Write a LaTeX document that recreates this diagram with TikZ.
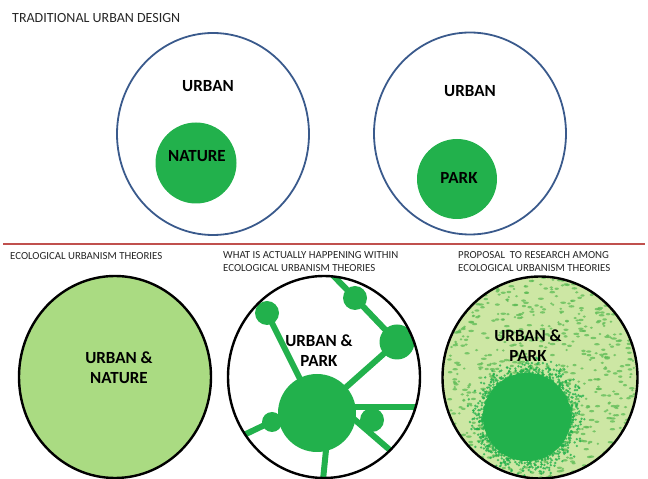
\documentclass[tikz,border=0pt]{standalone}
\usepackage{fontspec}
\setmainfont{Carlito}
\usetikzlibrary{calc}
\definecolor{ringc}{HTML}{3A5A8C}
\definecolor{parkc}{HTML}{22B14C}
\definecolor{lightc}{HTML}{AADB82}
\definecolor{palec}{HTML}{CDE7A4}
\definecolor{speckc}{HTML}{5CBB55}
\definecolor{linec}{HTML}{C0504D}
\tikzset{
  ring/.style={draw=ringc,line width=1.8pt},
  bound/.style={draw=black,line width=2.4pt},
  disc/.style={circle,fill=parkc,inner sep=0pt},
  lbl/.style={font=\fontsize{17}{20}\selectfont\bfseries,align=center,text=black,inner sep=0pt},
  captxt/.style={font=\fontsize{10.8}{13}\selectfont,anchor=west,inner sep=0pt,text=black!85},
  link/.style={parkc,line width=6pt}
}
\begin{document}
\begin{tikzpicture}[x=1pt,y=1pt]
\useasboundingbox (0,0) rectangle (648,479);
% traditional urban design
\node[captxt,font=\fontsize{14}{17}\selectfont] (title) at (12,461) {TRADITIONAL URBAN DESIGN};
\draw[ring] (213,345) ellipse [x radius=96,y radius=101];
\node[disc,minimum size=81] (nature) at (196,316) {};
\node[lbl] (urbanA) at (208,393) {URBAN};
\node[lbl] (natureT) at (197,323) {NATURE};
\draw[ring] (470,345.5) ellipse [x radius=96,y radius=101];
\node[disc,minimum size=80] (park) at (457,300) {};
\node[lbl] (urbanB) at (470,388) {URBAN};
\node[lbl] (parkT) at (459,301) {PARK};
\draw[linec,line width=1.5pt] (3,235) -- (645,235);
% ecological urbanism
\node[captxt] (capA) at (10,223) {ECOLOGICAL URBANISM THEORIES};
\node[captxt] (capB) at (223,224) {WHAT IS ACTUALLY HAPPENING WITHIN};
\node[captxt] (capC) at (223,211) {ECOLOGICAL URBANISM THEORIES};
\node[captxt] (capD) at (458,224) {PROPOSAL\ \ TO RESEARCH AMONG};
\node[captxt] (capE) at (458,211) {ECOLOGICAL URBANISM THEORIES};
\draw[bound,fill=lightc] (115,102) ellipse [x radius=96,y radius=101];
\node[lbl] (mixA) at (119,111) {URBAN \&\\NATURE};
% what happens: network of parks
\begin{scope}
\clip (324,102) ellipse [x radius=96,y radius=101];
\node[disc,minimum size=78] (hub) at (317,66) {};
\node[disc,minimum size=24] (tl) at (267,166) {};
\node[disc,minimum size=24] (tp) at (355,181) {};
\node[disc,minimum size=35] (rt) at (397,137) {};
\node[disc,minimum size=20] (ll) at (272,57) {};
\node[disc,minimum size=24] (lr) at (372,59) {};
\coordinate (eTop) at (320,217);
\coordinate (eRight) at (430,72);
\coordinate (eLeft) at (225,35);
\coordinate (eLow) at (420,3);
\coordinate (eBot) at (322,-11);
\draw[link] (eTop) -- (tp.center) -- (rt.center) -- (hub.center);
\draw[link] (tl.center) -- (hub.center);
\draw[link] (hub.center) ++(0,6) -- (eRight);
\draw[link] (hub.center) ++(0,13) -- (eLeft);
\draw[link] (hub.center) ++(23,6) -- (eLow);
\draw[link] (hub.center) ++(10,-27) -- (eBot);
\end{scope}
\draw[bound] (324,102) ellipse [x radius=96,y radius=101];
\node[lbl] (mixB) at (319,128) {URBAN \&\\PARK};
% proposal: diffuse park
\begin{scope}
\clip (540,101.5) ellipse [x radius=97.5,y radius=101];
\fill[palec] (440,0) rectangle (640,205);
\pgfmathsetseed{42}
\foreach \i in {1,...,850}{
  \pgfmathsetmacro\sx{440+200*rnd}
  \pgfmathsetmacro\sy{205*rnd}
  \pgfmathsetmacro\sw{1.2+1.8*rnd}
  \fill[speckc,opacity=0.75] (\sx,\sy) ellipse [x radius=\sw,y radius=1.2];
}
\coordinate (blob) at (527,62);
\foreach \i in {1,...,1400}{
  \pgfmathsetmacro\ang{360*rnd}
  \pgfmathsetmacro\rad{38+24*rnd*rnd}
  \fill[parkc,opacity=0.8] (blob) ++(\ang:\rad) circle (1.3);
}
\fill[parkc] (blob) circle (44);
\end{scope}
\draw[bound] (540,101.5) ellipse [x radius=97.5,y radius=101];
\node[lbl] (mixC) at (528,133) {URBAN \&\\PARK};
\end{tikzpicture}
\end{document}
